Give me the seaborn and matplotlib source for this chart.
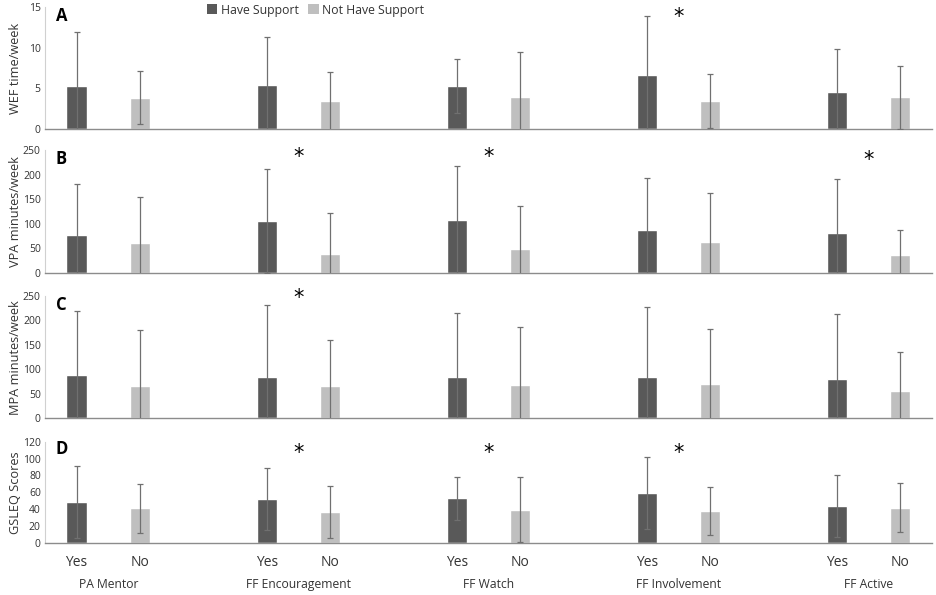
import numpy as np
import pandas as pd
import matplotlib
matplotlib.use("Agg")
import matplotlib.pyplot as plt
import matplotlib.transforms as mtransforms
from matplotlib.patches import Patch
import seaborn as sns

groups = ["PA Mentor", "FF Encouragement", "FF Watch", "FF Involvement", "FF Active"]
support_levels = ["Have Support", "Not Have Support"]

# A: WEF time/week
wef_yes = [5.25, 5.45, 5.25, 6.7, 4.55]
wef_yes_sd = [6.7, 5.9, 3.3, 7.2, 5.3]
wef_no = [3.85, 3.4, 3.9, 3.45, 3.9]
wef_no_sd = [3.25, 3.65, 5.6, 3.3, 3.85]
wef_sig = [False, False, False, True, False]

# B: VPA minutes/week
vpa_yes = [76, 105, 107, 86, 80]
vpa_yes_sd = [105, 106, 111, 106, 110]
vpa_no = [60, 38, 48, 63, 37]
vpa_no_sd = [95, 83, 88, 99, 51]
vpa_sig = [False, True, True, False, True]

# C: MPA minutes/week
mpa_yes = [88, 84, 84, 85, 81]
mpa_yes_sd = [131, 147, 131, 142, 133]
mpa_no = [65, 67, 69, 71, 56]
mpa_no_sd = [115, 93, 117, 112, 80]
mpa_sig = [False, True, False, False, False]

# D: GSLEQ Scores
gsleq_yes = [48, 52, 53, 59, 44]
gsleq_yes_sd = [43, 37, 25.5, 43, 37]
gsleq_no = [41, 36.5, 39, 38, 41.5]
gsleq_no_sd = [29, 31, 38.5, 28.5, 29]
gsleq_sig = [False, True, True, True, False]

panels = [
    ("A", "WEF time/week", wef_yes, wef_yes_sd, wef_no, wef_no_sd, wef_sig, [0, 5, 10, 15], 0.922),
    ("B", "VPA minutes/week", vpa_yes, vpa_yes_sd, vpa_no, vpa_no_sd, vpa_sig, [0, 50, 100, 150, 200, 250], 0.945),
    ("C", "MPA minutes/week", mpa_yes, mpa_yes_sd, mpa_no, mpa_no_sd, mpa_sig, [0, 50, 100, 150, 200, 250], 0.985),
    ("D", "GSLEQ Scores", gsleq_yes, gsleq_yes_sd, gsleq_no, gsleq_no_sd, gsleq_sig, [0, 20, 40, 60, 80, 100, 120], 0.89),
]

pal = {"Have Support": "#595959", "Not Have Support": "#bfbfbf"}
text_col = "#333333"

sns.set_theme(style="white")
plt.rcParams["font.family"] = ["Open Sans", "DejaVu Sans"]

# slot order: Yes, No per group, with an empty slot between groups
order = []
for i, g in enumerate(groups):
    if i:
        order.append(" " * i)
    order += [g + "|Yes", g + "|No"]

fig = plt.figure(figsize=(9.36, 5.95), dpi=100)
rects = [
    [0.048, 0.7832, 0.9477, 0.205],
    [0.048, 0.5417, 0.9477, 0.2062],
    [0.048, 0.2970, 0.9477, 0.2055],
    [0.048, 0.0879, 0.9477, 0.1697],
]

for k, (letter, ylab, yes, yes_sd, no, no_sd, sig, yticks, star_y) in enumerate(panels):
    ax = fig.add_axes(rects[k])
    rows = []
    for g, v, s in zip(groups, yes, yes_sd):
        rows.append({"slot": g + "|Yes", "Support": "Have Support", "value": v, "sd": s})
    for g, v, s in zip(groups, no, no_sd):
        rows.append({"slot": g + "|No", "Support": "Not Have Support", "value": v, "sd": s})
    df = pd.DataFrame(rows)

    sns.barplot(data=df, x="slot", y="value", hue="Support", order=order,
                hue_order=support_levels, palette=pal, dodge=False, width=0.32,
                saturation=1, errorbar=None, legend=False, ax=ax)

    xpos = [order.index(s) for s in df["slot"]]
    ax.errorbar(xpos, df["value"], yerr=df["sd"], fmt="none", ecolor="#707070",
                elinewidth=0.9, capsize=2.5, capthick=0.9, zorder=3)

    ax.set_ylim(yticks[0], yticks[-1])
    ax.set_yticks(yticks)
    ax.set_xlim(-0.5, len(order) - 0.5)
    ax.set_ylabel(ylab, fontsize=9.2, color=text_col)
    ax.yaxis.set_label_coords(-0.026, 0.5)
    ax.set_xlabel("")
    ax.tick_params(axis="y", labelsize=7.5, length=0, pad=3, colors=text_col)
    ax.tick_params(axis="x", length=0, pad=9, labelsize=10, colors=text_col)
    for side in ["top", "right"]:
        ax.spines[side].set_visible(False)
    ax.spines["left"].set_color("#d0d0d0")
    ax.spines["bottom"].set_color("#8c8c8c")
    ax.spines["left"].set_linewidth(0.8)
    ax.spines["bottom"].set_linewidth(1.0)

    ax.text(0.012, 0.93, letter, transform=ax.transAxes, fontsize=12,
            fontweight="bold", color="black", va="center", ha="left")

    trans = mtransforms.blended_transform_factory(ax.transData, ax.transAxes)
    for j, (g, flag) in enumerate(zip(groups, sig)):
        if flag:
            # last star in panel B sits a little lower in the original
            dy = -0.03 if (letter == "B" and j == 4) else 0
            ax.text(order.index(g + "|Yes") + 0.5, star_y + dy, "*", transform=trans,
                    fontsize=15, ha="center", va="center", color="black",
                    family="DejaVu Sans", clip_on=False)

    if k == 3:
        ax.set_xticks(range(len(order)))
        ax.set_xticklabels([s.split("|")[1] if "|" in s else "" for s in order])
        for g in groups:
            ax.text(order.index(g + "|Yes") + 0.5, -0.41, g, transform=trans,
                    fontsize=8.7, ha="center", va="center", color=text_col)
    else:
        ax.set_xticklabels([])

    if k == 0:
        handles = [Patch(facecolor=pal[s], edgecolor="none") for s in support_levels]
        ax.legend(handles, support_levels, loc="center", bbox_to_anchor=(0.305, 0.975),
                  ncol=2, frameon=False, fontsize=8.8, handlelength=0.85,
                  handleheight=0.85, handletextpad=0.3, columnspacing=0.8,
                  labelcolor=text_col)

fig.savefig("out.png", dpi=100)
